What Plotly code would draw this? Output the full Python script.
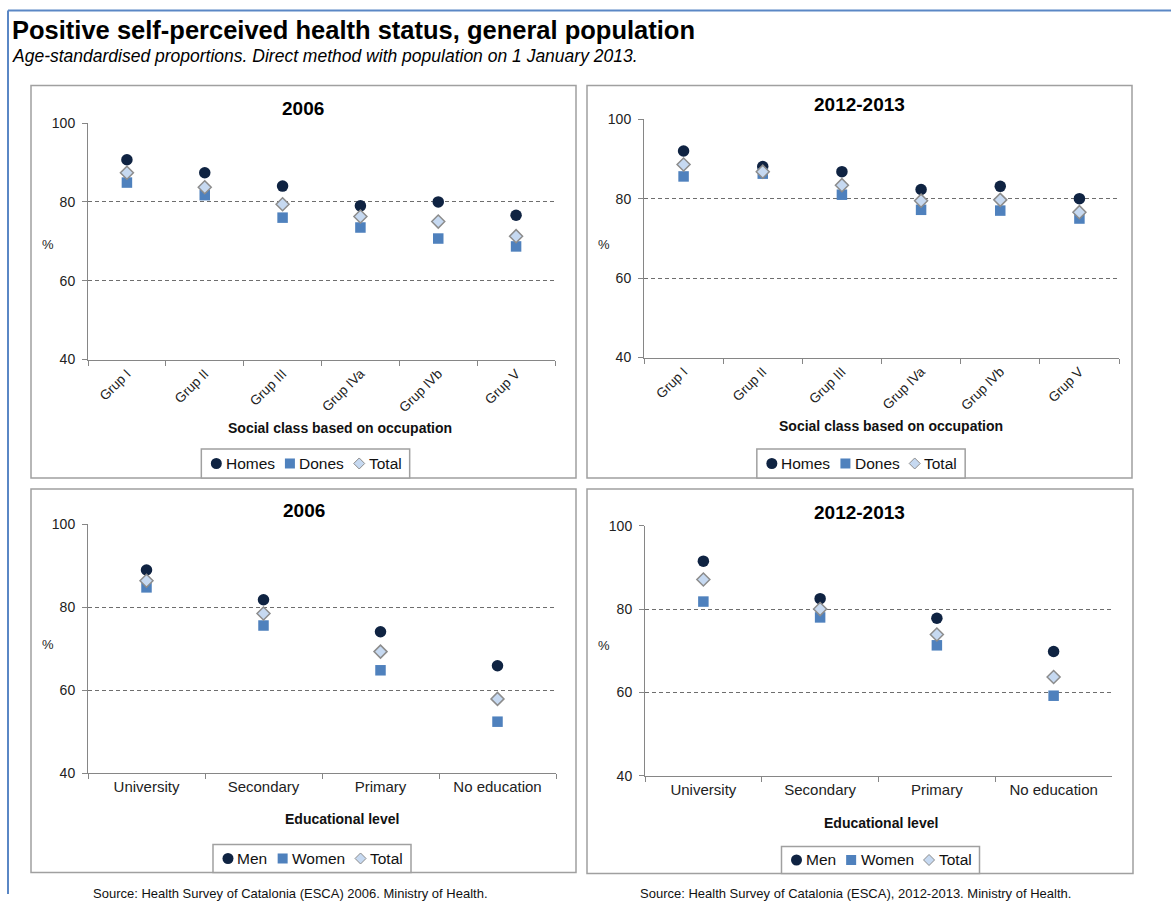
import plotly.graph_objects as go

W, H = 1171, 902
FONT = "Liberation Sans, Arial, sans-serif"

# Categories
social_classes = ["Grup I", "Grup II", "Grup III", "Grup IVa", "Grup IVb", "Grup V"]
education_levels = ["University", "Secondary", "Primary", "No education"]

# Social class, 2006 (%)
homes_2006 = [90.7, 87.4, 84.0, 79.0, 80.0, 76.6]
dones_2006 = [84.9, 81.7, 76.0, 73.5, 70.7, 68.7]
total_2006 = [87.4, 83.7, 79.4, 76.3, 75.0, 71.3]

# Social class, 2012-2013 (%)
homes_2013 = [92.0, 88.1, 86.8, 82.3, 83.1, 80.0]
dones_2013 = [85.6, 86.3, 81.0, 77.2, 77.0, 75.0]
total_2013 = [88.6, 86.8, 83.4, 79.5, 79.7, 76.6]

# Educational level, 2006 (%)
men_edu_2006 = [89.0, 81.8, 74.1, 65.9]
women_edu_2006 = [84.8, 75.6, 64.8, 52.4]
total_edu_2006 = [86.4, 78.5, 69.3, 57.9]

# Educational level, 2012-2013 (%)
men_edu_2013 = [91.5, 82.5, 77.8, 69.8]
women_edu_2013 = [81.8, 78.0, 71.3, 59.2]
total_edu_2013 = [87.1, 80.0, 73.9, 63.7]

NAVY = "#0f2342"
BLUE = "#4f81bd"
PALE = "#c6d9f1"
GREY = "#8c8c8c"
FRAME = "#a0a0a0"
LEGEND_FONT = 15.5

# Arial / Liberation Sans advance widths (1/1000 em) for legend labels
CHAR_W = {"H": 722, "o": 556, "m": 833, "e": 556, "s": 500, "D": 722, "n": 556,
          "T": 611, "t": 278, "a": 556, "l": 222, "M": 833, "W": 944}


def text_width(s, size):
    return sum(CHAR_W.get(c, 556) for c in s) * size / 1000.0


def px(x):
    """Horizontal page position (pixels) -> paper fraction."""
    return x / W


def py(y):
    """Vertical page position (pixels from top) -> paper fraction."""
    return 1 - (y - 7.6) / 0.981 / H


marker_styles = [
    dict(symbol="circle", size=11.5, color=NAVY),
    dict(symbol="square", size=10.5, color=BLUE),
    dict(symbol="diamond", size=10, color=PALE, line=dict(color=GREY, width=1.5)),
]

panels = [
    dict(ax="", cats=social_classes,
         series=[homes_2006, dones_2006, total_2006], names=["Homes", "Dones", "Total"],
         xdom=(88, 555), ydom=(122.5, 358.7), tickangle=-45, tickfont=13.5,
         title="2006", title_xy=(303, 108), pct_xy=(48, 244),
         xtitle="Social class based on occupation", xtitle_xy=(340, 427),
         leg_box=(305.5, 448, 477), box=(31, 85, 576, 477)),
    dict(ax="2", cats=social_classes,
         series=[homes_2013, dones_2013, total_2013], names=["Homes", "Dones", "Total"],
         xdom=(644, 1119), ydom=(118.7, 356.7), tickangle=-45, tickfont=13.5,
         title="2012-2013", title_xy=(859, 104), pct_xy=(604, 244),
         xtitle="Social class based on occupation", xtitle_xy=(891, 425),
         leg_box=(861, 448, 477), box=(587, 85, 1132, 477)),
    dict(ax="3", cats=education_levels,
         series=[men_edu_2006, women_edu_2006, total_edu_2006], names=["Men", "Women", "Total"],
         xdom=(88, 556), ydom=(523.3, 771.7), tickangle=0, tickfont=15,
         title="2006", title_xy=(304, 509), pct_xy=(48, 643),
         xtitle="Educational level", xtitle_xy=(342, 818),
         leg_box=(312, 843, 871), box=(31, 488, 576, 871)),
    dict(ax="4", cats=education_levels,
         series=[men_edu_2013, women_edu_2013, total_edu_2013], names=["Men", "Women", "Total"],
         xdom=(645, 1112), ydom=(524.7, 774.3), tickangle=0, tickfont=15,
         title="2012-2013", title_xy=(859, 511), pct_xy=(604, 644),
         xtitle="Educational level", xtitle_xy=(881, 822),
         leg_box=(880.5, 845, 872), box=(587, 488, 1133, 872)),
]

fig = go.Figure()
annotations = []
shapes = []
layout = {}


def add_legend(names, cx, top, bottom):
    """Compact boxed legend: marker glyph followed closely by its label."""
    pad_l, mk_to_text, text_to_mk, pad_r = 15, 8.5, 16, 7.5
    widths = [text_width(n, LEGEND_FONT) for n in names]
    total = pad_l + len(names) * mk_to_text + sum(widths) + (len(names) - 1) * text_to_mk + pad_r
    left = cx - total / 2
    cy = (top + bottom) / 2
    shapes.append(dict(type="rect", xref="paper", yref="paper",
                       x0=px(left), x1=px(left + total), y0=py(bottom), y1=py(top),
                       line=dict(color=FRAME, width=1.5), fillcolor="white"))
    mx = left + pad_l
    for name, w, mk in zip(names, widths, marker_styles):
        sym = mk["symbol"]
        if sym == "circle":
            r = 5.5
            shapes.append(dict(type="circle", xref="paper", yref="paper",
                               x0=px(mx - r), x1=px(mx + r), y0=py(cy + r), y1=py(cy - r),
                               fillcolor=mk["color"], line=dict(width=0)))
        elif sym == "square":
            r = 5
            shapes.append(dict(type="rect", xref="paper", yref="paper",
                               x0=px(mx - r), x1=px(mx + r), y0=py(cy + r), y1=py(cy - r),
                               fillcolor=mk["color"], line=dict(width=0)))
        else:
            r = 5.5
            path = "M {a},{b} L {c},{d} L {a},{e} L {f},{d} Z".format(
                a=px(mx), b=py(cy - r), c=px(mx + r), d=py(cy),
                e=py(cy + r), f=px(mx - r))
            shapes.append(dict(type="path", xref="paper", yref="paper", path=path,
                               fillcolor=mk["color"], line=dict(color=GREY, width=1)))
        tx = mx + mk_to_text
        annotations.append(dict(text=name, x=px(tx - 1), y=py(cy), xref="paper", yref="paper",
                                xanchor="left", yanchor="middle", showarrow=False,
                                font=dict(size=LEGEND_FONT, color="#111111")))
        mx = tx + w + text_to_mk


for p in panels:
    xa, ya = "x" + p["ax"], "y" + p["ax"]
    for vals, name, mk in zip(p["series"], p["names"], marker_styles):
        fig.add_trace(go.Scatter(
            x=p["cats"], y=vals, mode="markers", name=name,
            marker=mk, xaxis=xa, yaxis=ya, showlegend=False,
            cliponaxis=False,
        ))

    n = len(p["cats"])
    layout["xaxis" + p["ax"]] = dict(
        domain=[px(p["xdom"][0]), px(p["xdom"][1])], anchor=ya,
        type="category", range=[-0.5, n - 0.5], tickson="boundaries",
        showline=True, linecolor="#868686", linewidth=1,
        ticks="outside", ticklen=5, tickcolor="#868686",
        showgrid=False, zeroline=False, tickangle=p["tickangle"],
        tickfont=dict(size=p["tickfont"], color="#222222"),
    )
    layout["yaxis" + p["ax"]] = dict(
        domain=[py(p["ydom"][1]), py(p["ydom"][0])], anchor=xa,
        range=[40, 100], dtick=20, tick0=40,
        showline=True, linecolor="#868686", linewidth=1,
        ticks="outside", ticklen=5, tickcolor="#868686",
        showgrid=True, gridcolor="#6e6e6e", gridwidth=1, griddash="4px,3px",
        zeroline=False, ticklabelstandoff=4,
        tickfont=dict(size=14, color="#222222"),
    )

    x0, y0, x1, y1 = p["box"]
    shapes.append(dict(type="rect", xref="paper", yref="paper",
                       x0=px(x0), x1=px(x1), y0=py(y1), y1=py(y0),
                       line=dict(color=FRAME, width=1.5), layer="below"))

    annotations.append(dict(text="<b>%s</b>" % p["title"], x=px(p["title_xy"][0]),
                            y=py(p["title_xy"][1]), xref="paper", yref="paper",
                            xanchor="center", yanchor="middle", showarrow=False,
                            font=dict(size=19, color="black")))
    annotations.append(dict(text="%", x=px(p["pct_xy"][0]), y=py(p["pct_xy"][1]),
                            xref="paper", yref="paper", xanchor="center",
                            yanchor="middle", showarrow=False,
                            font=dict(size=13, color="#222222")))
    annotations.append(dict(text="<b>%s</b>" % p["xtitle"], x=px(p["xtitle_xy"][0]),
                            y=py(p["xtitle_xy"][1]), xref="paper", yref="paper",
                            xanchor="center", yanchor="middle", showarrow=False,
                            font=dict(size=14, color="#111111")))

    cx, top, bottom = p["leg_box"]
    add_legend(p["names"], cx, top, bottom)

# Page title and note
annotations.append(dict(text="<b>Positive self-perceived health status, general population</b>",
                        x=px(10), y=py(30), xref="paper", yref="paper",
                        xanchor="left", yanchor="middle", showarrow=False,
                        font=dict(size=25.5, color="black")))
annotations.append(dict(text="<i>Age-standardised proportions. Direct method with population on 1 January 2013.</i>",
                        x=px(10), y=py(56), xref="paper", yref="paper",
                        xanchor="left", yanchor="middle", showarrow=False,
                        font=dict(size=17.5, color="black")))

# Sources
annotations.append(dict(text="Source: Health Survey of Catalonia (ESCA) 2006. Ministry of Health.",
                        x=px(290), y=py(892), xref="paper", yref="paper",
                        xanchor="center", yanchor="middle", showarrow=False,
                        font=dict(size=13, color="#111111")))
annotations.append(dict(text="Source: Health Survey of Catalonia (ESCA), 2012-2013. Ministry of Health.",
                        x=px(855), y=py(892), xref="paper", yref="paper",
                        xanchor="center", yanchor="middle", showarrow=False,
                        font=dict(size=13, color="#111111")))

# Outer frame (left and top edges)
shapes.append(dict(type="line", xref="paper", yref="paper",
                   x0=px(8), x1=px(8), y0=0, y1=py(10),
                   line=dict(color="#5a87c5", width=2)))
shapes.append(dict(type="line", xref="paper", yref="paper",
                   x0=px(8), x1=1, y0=py(10), y1=py(10),
                   line=dict(color="#5a87c5", width=2)))

fig.update_layout(
    width=W, height=H, margin=dict(l=0, r=0, t=0, b=0),
    paper_bgcolor="white", plot_bgcolor="white",
    font=dict(family=FONT, color="#111111"),
    annotations=annotations, shapes=shapes, showlegend=False,
    **layout,
)

fig.write_html("out.html")
